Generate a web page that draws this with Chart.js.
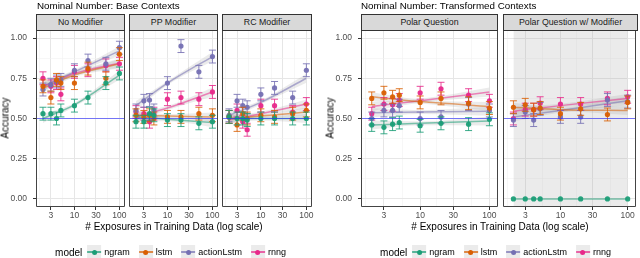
<!DOCTYPE html>
<html>
<head>
<meta charset="utf-8">
<script src="https://cdn.jsdelivr.net/npm/chart.js@4"></script>
<style>
  body { margin: 0; background: #fff; font-family: "Liberation Sans", Arial, sans-serif; }
  #wrap { position: relative; width: 640px; height: 258px; overflow: hidden; }
  #wrap canvas { position: absolute; left: 0; top: 0; }
  .title { position: absolute; top: 0; font-size: 9.8px; line-height: 12px; color: #000; white-space: nowrap; }
  .strip { position: absolute; top: 14px; height: 17px; box-sizing: border-box; background: #d9d9d9;
           border: 1px solid #333; font-size: 8.8px; line-height: 15px; text-align: center; color: #1a1a1a; white-space: nowrap; }
  .ytitle { position: absolute; top: 118px; font-size: 10px; color: #000; white-space: nowrap; transform: translate(-50%, -50%) rotate(-90deg); }
  .xtitle { position: absolute; top: 221px; font-size: 10px; line-height: 12px; white-space: nowrap; transform: translateX(-50%); }
  .legend { position: absolute; top: 244px; height: 16px; display: flex; align-items: center; transform: translateX(-50%); white-space: nowrap; }
  .legend .lab { font-size: 10px; margin-right: 5px; }
  .legend .key { position: relative; width: 14px; height: 14px; background: #ebebeb; }
  .legend .key .ln { position: absolute; left: 0; right: 0; top: 6px; height: 1.5px; }
  .legend .key .dot { position: absolute; left: 4.5px; top: 4.5px; width: 5px; height: 5px; border-radius: 50%; }
  .legend .txt { font-size: 9px; margin-left: 3px; margin-right: 9px; }
</style>
</head>
<body>
<div id="wrap"></div>
<script>
// x values (exposures) shared by every panel
const X_VALUES = [2, 3, 4, 5, 10, 20, 50, 100];
const FIT_X = [2, 10, 100];
const MODELS = ['ngram', 'lstm', 'actionLstm', 'rnng'];
const COLORS = ['#1b9e77', '#d95f02', '#7570b3', '#e7298a'];
const X_TICKS = [3, 10, 30, 100];
const X_MINOR = [1.64, 5.48, 17.3, 54.8];
const Y_TICKS = [0, 0.25, 0.5, 0.75, 1];
const Y_MINOR = [0.125, 0.375, 0.625, 0.875];
const CHANCE = 0.5;
const ERR = 0.04;

// No Modifier
const noModNgram = [0.53, 0.53, 0.50, 0.55, 0.58, 0.63, 0.72, 0.78];
const noModLstm = [0.70, 0.63, 0.74, 0.72, 0.72, 0.81, 0.75, 0.90];
const noModAction = [0.68, 0.71, 0.73, 0.74, 0.80, 0.86, 0.84, 0.94];
const noModRnng = [0.75, 0.70, 0.72, 0.65, 0.79, 0.80, 0.83, 0.84];
const noModFitNgram = [0.50, 0.585, 0.77];
const noModFitLstm = [0.69, 0.77, 0.84];
const noModFitAction = [0.70, 0.79, 0.92];
const noModFitRnng = [0.70, 0.78, 0.845];

// PP Modifier
const ppNgram = [0.48, 0.48, 0.53, 0.52, 0.49, 0.49, 0.47, 0.48];
const ppLstm = [0.52, 0.51, 0.52, 0.50, 0.51, 0.51, 0.53, 0.52];
const ppAction = [0.55, 0.61, 0.615, 0.55, 0.72, 0.95, 0.79, 0.885];
const ppRnng = [0.54, 0.53, 0.48, 0.53, 0.62, 0.63, 0.62, 0.665];
const ppFitNgram = [0.51, 0.495, 0.475];
const ppFitLstm = [0.52, 0.515, 0.51];
const ppFitAction = [0.58, 0.72, 0.885];
const ppFitRnng = [0.51, 0.565, 0.665];

// RC Modifier
const rcNgram = [0.51, 0.50, 0.50, 0.49, 0.50, 0.50, 0.50, 0.50];
const rcLstm = [0.51, 0.46, 0.53, 0.50, 0.52, 0.51, 0.53, 0.55];
const rcAction = [0.52, 0.61, 0.58, 0.57, 0.65, 0.69, 0.63, 0.80];
const rcRnng = [0.51, 0.55, 0.48, 0.43, 0.58, 0.58, 0.54, 0.59];
const rcFitNgram = [0.50, 0.50, 0.50];
const rcFitLstm = [0.50, 0.515, 0.54];
const rcFitAction = [0.52, 0.60, 0.75];
const rcFitRnng = [0.49, 0.53, 0.59];

// Polar Question
const pqNgram = [0.46, 0.445, 0.465, 0.475, 0.455, 0.47, 0.465, 0.495];
const pqLstm = [0.625, 0.66, 0.635, 0.645, 0.60, 0.625, 0.595, 0.565];
const pqAction = [0.50, 0.55, 0.55, 0.58, 0.50, 0.51, 0.59, 0.55];
const pqRnng = [0.53, 0.59, 0.585, 0.615, 0.66, 0.685, 0.645, 0.61];
const pqFitNgram = [0.46, 0.47, 0.485];
const pqFitLstm = [0.635, 0.605, 0.575];
const pqFitAction = [0.535, 0.54, 0.545];
const pqFitRnng = [0.575, 0.61, 0.665];

// Polar Question w/ Modifier
const pmNgram = [0, 0, 0, 0, 0, 0, 0, 0];
const pmLstm = [0.57, 0.585, 0.555, 0.565, 0.53, 0.56, 0.525, 0.60];
const pmAction = [0.49, 0.54, 0.49, 0.56, 0.51, 0.51, 0.615, 0.605];
const pmRnng = [0.50, 0.555, 0.555, 0.595, 0.59, 0.59, 0.625, 0.635];
const pmFitNgram = [0, 0, 0];
const pmFitLstm = [0.57, 0.555, 0.55];
const pmFitAction = [0.51, 0.55, 0.61];
const pmFitRnng = [0.545, 0.58, 0.625];

// confidence band half widths of the smooths
const FIT_SE = [0.028, 0.012, 0.028];
const PM_NGRAM_SE = [1.2, 1.2, 1.2];

const X_MIN = 1.4, X_MAX = 133;
const FONT = '"Liberation Sans", Arial, sans-serif';
const wrap = document.getElementById('wrap');

function rgba(hex, a) {
    const n = parseInt(hex.slice(1), 16);
    return `rgba(${n >> 16}, ${(n >> 8) & 255}, ${n & 255}, ${a})`;
}

const panelDecor = {
    id: 'panelDecor',
    beforeDatasetDraw(chart, args) {
        const ds = chart.data.datasets[args.index];
        if (!ds.errHalf) return;
        const ctx = chart.ctx;
        const xs = chart.scales.x, ys = chart.scales.y;
        ctx.save();
        ctx.strokeStyle = rgba(ds.errColor, 0.85);
        ctx.lineWidth = 1;
        ds.data.forEach(p => {
            const x = xs.getPixelForValue(p.x);
            const y1 = ys.getPixelForValue(p.y - ds.errHalf);
            const y2 = ys.getPixelForValue(p.y + ds.errHalf);
            ctx.beginPath();
            ctx.moveTo(x, y1); ctx.lineTo(x, y2);
            ctx.moveTo(x - 3.5, y1); ctx.lineTo(x + 3.5, y1);
            ctx.moveTo(x - 3.5, y2); ctx.lineTo(x + 3.5, y2);
            ctx.stroke();
        });
        ctx.restore();
    },
    afterDraw(chart) {
        const ctx = chart.ctx;
        const a = chart.chartArea;
        ctx.save();
        ctx.beginPath();
        ctx.strokeStyle = '#444444';
        ctx.lineWidth = 1;
        ctx.rect(a.left + 0.5, a.top + 0.5, a.right - a.left - 1, a.bottom - a.top - 1);
        ctx.stroke();
        ctx.restore();
    }
};

function makePanel(p) {
    const canvas = document.createElement('canvas');
    canvas.width = 640;
    canvas.height = 258;
    wrap.appendChild(canvas);

    const strip = document.createElement('div');
    strip.className = 'strip';
    strip.style.left = p.left + 'px';
    strip.style.width = (p.right - p.left) + 'px';
    strip.textContent = p.name;
    wrap.appendChild(strip);

    const datasets = [];
    MODELS.forEach((m, k) => {
        const fit = p.fits[k];
        const se = p.se[k];
        datasets.push({
            data: FIT_X.map((x, i) => ({ x: x, y: fit[i] + se[i] })),
            borderColor: 'rgba(0,0,0,0)', borderWidth: 0, pointRadius: 0, fill: false,
            cubicInterpolationMode: 'monotone', order: 4
        });
        datasets.push({
            data: FIT_X.map((x, i) => ({ x: x, y: fit[i] - se[i] })),
            borderColor: 'rgba(0,0,0,0)', borderWidth: 0, pointRadius: 0, fill: '-1',
            backgroundColor: 'rgba(153, 153, 153, 0.2)',
            cubicInterpolationMode: 'monotone', order: 4
        });
        datasets.push({
            label: m,
            data: FIT_X.map((x, i) => ({ x: x, y: fit[i] })),
            borderColor: rgba(COLORS[k], 0.55), borderWidth: 1.5,
            pointRadius: 0, fill: false,
            cubicInterpolationMode: 'monotone', order: 3
        });
        datasets.push({
            label: m,
            data: X_VALUES.map((x, i) => ({ x: x, y: p.series[k][i] })),
            showLine: false, pointRadius: 2.6, pointBorderWidth: 0,
            pointBackgroundColor: rgba(COLORS[k], 0.95),
            errHalf: p.errs[k], errColor: COLORS[k], order: 2
        });
    });
    // chance level reference line
    datasets.push({
        data: [{ x: X_MIN, y: CHANCE }, { x: X_MAX, y: CHANCE }],
        borderColor: 'rgba(40, 40, 255, 0.6)', borderWidth: 1,
        pointRadius: 0, fill: false, order: 1
    });

    const yW = p.showY ? 30 : 0;
    new Chart(canvas.getContext('2d'), {
        type: 'line',
        data: { datasets: datasets },
        options: {
            responsive: false,
            animation: false,
            events: [],
            layout: {
                padding: { left: p.left - yW, right: 640 - p.right, top: 30, bottom: 31 }
            },
            plugins: { legend: { display: false }, tooltip: { enabled: false } },
            scales: {
                x: {
                    type: 'logarithmic',
                    min: X_MIN, max: X_MAX,
                    afterBuildTicks: s => { s.ticks = X_MINOR.concat(X_TICKS).sort((a, b) => a - b).map(v => ({ value: v })); },
                    afterFit: s => { s.height = 20; },
                    border: { display: false },
                    grid: {
                        color: c => X_TICKS.includes(c.tick.value) ? '#e6e6e6' : '#f2f2f2',
                        lineWidth: c => X_TICKS.includes(c.tick.value) ? 1 : 0.6,
                        tickColor: c => X_TICKS.includes(c.tick.value) ? '#333' : 'rgba(0,0,0,0)',
                        tickLength: 3
                    },
                    ticks: {
                        autoSkip: false, maxRotation: 0, padding: 1,
                        color: '#4d4d4d', font: { family: FONT, size: 8.5 },
                        callback: v => X_TICKS.includes(v) ? String(v) : ''
                    }
                },
                y: {
                    min: -0.05, max: 1.05,
                    afterBuildTicks: s => { s.ticks = Y_TICKS.concat(Y_MINOR).sort((a, b) => a - b).map(v => ({ value: v })); },
                    afterFit: s => { s.width = yW; },
                    border: { display: false },
                    grid: {
                        color: c => Y_TICKS.includes(c.tick.value) ? '#e6e6e6' : '#f2f2f2',
                        lineWidth: c => Y_TICKS.includes(c.tick.value) ? 1 : 0.6,
                        tickColor: c => Y_TICKS.includes(c.tick.value) ? '#333' : 'rgba(0,0,0,0)',
                        drawTicks: p.showY,
                        tickLength: 3
                    },
                    ticks: {
                        display: p.showY, autoSkip: false, padding: 6,
                        color: '#4d4d4d', font: { family: FONT, size: 8.5 },
                        callback: v => Y_TICKS.includes(v) ? v.toFixed(2) : ''
                    }
                }
            }
        },
        plugins: [panelDecor]
    });
}

function addText(cls, text, left) {
    const d = document.createElement('div');
    d.className = cls;
    d.style.left = left + 'px';
    d.textContent = text;
    wrap.appendChild(d);
}

function addLegend(cx) {
    const lg = document.createElement('div');
    lg.className = 'legend';
    lg.style.left = cx + 'px';
    let html = '<span class="lab">model</span>';
    MODELS.forEach((m, k) => {
        html += `<span class="key"><span class="ln" style="background:${rgba(COLORS[k], 0.7)}"></span>` +
            `<span class="dot" style="background:${COLORS[k]}"></span></span><span class="txt">${m}</span>`;
    });
    lg.innerHTML = html;
    wrap.appendChild(lg);
}

const SE4 = [FIT_SE, FIT_SE, FIT_SE, FIT_SE];
const ERR4 = [ERR, ERR, ERR, ERR];

makePanel({ name: 'No Modifier', left: 36, right: 125, showY: true,
    series: [noModNgram, noModLstm, noModAction, noModRnng],
    fits: [noModFitNgram, noModFitLstm, noModFitAction, noModFitRnng], se: SE4, errs: ERR4 });
makePanel({ name: 'PP Modifier', left: 129, right: 218, showY: false,
    series: [ppNgram, ppLstm, ppAction, ppRnng],
    fits: [ppFitNgram, ppFitLstm, ppFitAction, ppFitRnng], se: SE4, errs: ERR4 });
makePanel({ name: 'RC Modifier', left: 222, right: 312, showY: false,
    series: [rcNgram, rcLstm, rcAction, rcRnng],
    fits: [rcFitNgram, rcFitLstm, rcFitAction, rcFitRnng], se: SE4, errs: ERR4 });
makePanel({ name: 'Polar Question', left: 361, right: 498, showY: true,
    series: [pqNgram, pqLstm, pqAction, pqRnng],
    fits: [pqFitNgram, pqFitLstm, pqFitAction, pqFitRnng], se: SE4, errs: ERR4 });
makePanel({ name: 'Polar Question w/ Modifier', left: 503, right: 638, showY: false,
    series: [pmNgram, pmLstm, pmAction, pmRnng],
    fits: [pmFitNgram, pmFitLstm, pmFitAction, pmFitRnng],
    se: [PM_NGRAM_SE, FIT_SE, FIT_SE, FIT_SE], errs: [0, ERR, ERR, ERR] });

addText('title', 'Nominal Number: Base Contexts', 37);
addText('title', 'Nominal Number: Transformed Contexts', 361);
addText('ytitle', 'Accuracy', 5);
addText('ytitle', 'Accuracy', 330);
addText('xtitle', '# Exposures in Training Data (log scale)', 174);
addText('xtitle', '# Exposures in Training Data (log scale)', 500);
addLegend(175);
addLegend(500);
</script>
</body>
</html>
